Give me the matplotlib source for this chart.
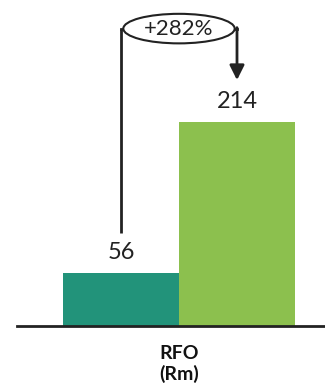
import numpy as np
import matplotlib.pyplot as plt
from matplotlib.patches import Ellipse

# Data
categories = ['Before', 'After']
values = [56, 214]
bar_colors = ['#22937A', '#8CC04E']
change_label = '+282%'
axis_label = 'RFO\n(Rm)'

plt.rcParams['font.family'] = ['Lato', 'DejaVu Sans']

fig = plt.figure(figsize=(3.25, 3.86), dpi=100)
ax = fig.add_axes([0, 60 / 386, 1, 326 / 386])

x = np.arange(len(values))
ax.bar(x, values, width=1.0, color=bar_colors, align='center')

# value labels
for xi, v in zip(x, values):
    ax.text(xi, v + 10, str(v), ha='center', va='bottom', fontsize=17, color='#222222')

# bracket with growth label
y_top = 312
ax.plot([x[0], x[0]], [values[0] + 42, y_top], color='#222222', lw=2, solid_capstyle='butt')
ax.plot([x[0], 0.5 - 0.46], [y_top, y_top], color='#222222', lw=2)
ax.plot([0.5 + 0.46, x[1]], [y_top, y_top], color='#222222', lw=2)
ax.annotate('', xy=(x[1], values[1] + 44), xytext=(x[1], y_top + 1),
            arrowprops=dict(arrowstyle='-|>', color='#222222', lw=2,
                            mutation_scale=22, shrinkA=0, shrinkB=0))
ax.add_patch(Ellipse((0.5, y_top), 0.96, 31, facecolor='white',
                     edgecolor='#222222', lw=1.5, zorder=3))
ax.text(0.5, y_top, change_label, ha='center', va='center', fontsize=16,
        color='#222222', zorder=4)

ax.set_xlim(-0.5 - 63 / 116, 1.5 + 30 / 116)
ax.set_ylim(0, 342)
for s in ['top', 'right', 'left']:
    ax.spines[s].set_visible(False)
ax.spines['bottom'].set_linewidth(2)
ax.spines['bottom'].set_color('#222222')
ax.spines['bottom'].set_bounds(-0.5 - 46 / 116, 1.5 + 30 / 116)
ax.set_xticks([])
ax.set_yticks([])

fig.text(179 / 325, 1 - 364 / 386, axis_label, ha='center', va='center',
         fontsize=14, fontweight='bold', color='#111111', linespacing=1.2)

fig.savefig('out.png', dpi=100)
